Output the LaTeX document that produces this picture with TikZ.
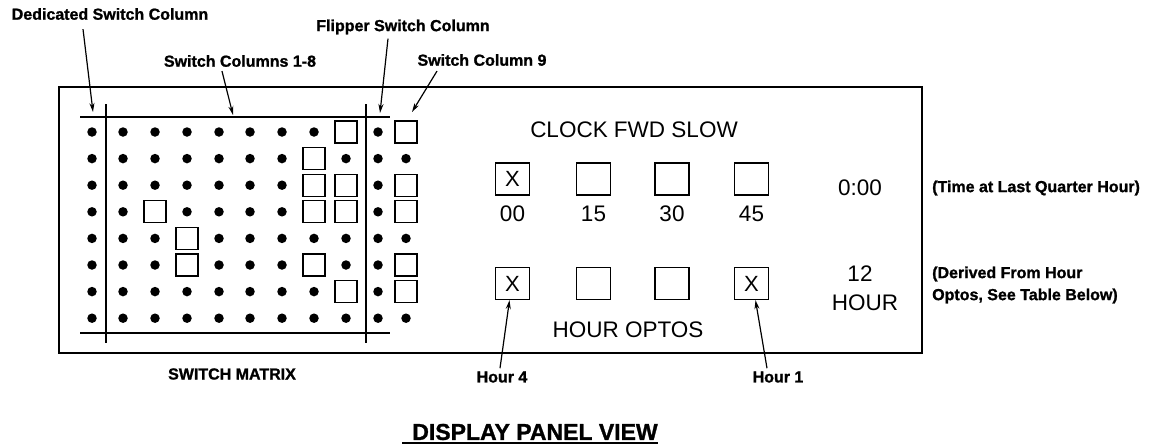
\documentclass[tikz,border=0pt]{standalone}
\usepackage{fontspec}
\setmainfont{Liberation Sans}
\newfontfamily\heavyfont[FakeBold=1.2]{Liberation Sans Bold}
\usetikzlibrary{arrows.meta,calc}
\begin{document}
\begin{tikzpicture}[x=1pt,y=-1pt,
 lbl/.style={font=\heavyfont\fontsize{16}{18}\selectfont, inner sep=1pt},
 big/.style={font=\fontsize{22.5}{26}\selectfont, inner sep=0pt},
 dot/.style={circle, fill=black, inner sep=0pt, minimum size=9.5pt},
 sq/.style={draw, line width=1.3pt, inner sep=0pt, minimum size=22pt},
 optobox/.style={draw, line width=1.3pt, inner sep=0pt, minimum width=34pt, minimum height=32pt, font=\fontsize{22}{24}\selectfont},
 arr/.style={line width=1.2pt, -{Stealth[length=9pt,width=5pt]}},
 rule/.style={line width=1.6pt}]
\useasboundingbox (0,0) rectangle (1156,445);
% panel
\draw[rule] (59,87) rectangle (922,353);
% matrix frame lines
\draw[rule] (80,117) -- (390,117);
\draw[rule] (80,333) -- (390,333);
\draw[rule] (106,104) -- (106,343);
\draw[rule] (366,104) -- (366,343);
% matrix dots / squares
\def\colx{{92,123,155,187,219,250,282,314,346,378,406}}
\foreach \pat [count=\r from 0] in {{0,0,0,0,0,0,0,0,1,0,1},{0,0,0,0,0,0,0,1,0,0,0},{0,0,0,0,0,0,0,1,1,0,1},{0,0,1,0,0,0,0,1,1,0,1},{0,0,0,1,0,0,0,0,0,0,0},{0,0,0,1,0,0,0,1,0,0,1},{0,0,0,0,0,0,0,0,1,0,1},{0,0,0,0,0,0,0,0,0,0,0}}{
  \foreach \v [count=\c from 0] in \pat {
    \pgfmathsetmacro\xx{\colx[\c]}
    \pgfmathsetmacro\yy{132+26.6*\r}
    \ifnum\v=1 \node[sq] (m-\r-\c) at (\xx,\yy) {};\else\node[dot] (m-\r-\c) at (\xx,\yy) {};\fi
  }
}
% clock section
\node[big] (clk) at (634,130) {CLOCK FWD SLOW};
\node[optobox] (t-0) at (512.5,179) {X};
\node[optobox] (t-1) at (593.5,179) {};
\node[optobox] (t-2) at (672,179) {};
\node[optobox] (t-3) at (751.5,179) {};
\node[big] (tl-0) at (512.5,214) {00};
\node[big] (tl-1) at (593.5,214) {15};
\node[big] (tl-2) at (672,214) {30};
\node[big] (tl-3) at (751.5,214) {45};
\node[optobox] (b-0) at (512.5,283.5) {X};
\node[optobox] (b-1) at (593.5,283.5) {};
\node[optobox] (b-2) at (672,283.5) {};
\node[optobox] (b-3) at (751.5,283.5) {X};
\node[big] (ho) at (628,330) {HOUR OPTOS};
\node[big] (t000) at (860,188) {0:00};
\node[big] (h12) at (860,274) {12};
\node[big] (hour) at (865,303) {HOUR};
% notes at right
\node[lbl, anchor=west] (note1) at (931,188) {(Time at Last Quarter Hour)};
\node[lbl, anchor=west, align=left, font=\heavyfont\fontsize{16}{22}\selectfont] (note2) at (931,285) {(Derived From Hour\\Optos, See Table Below)};
% top labels
\node[lbl] (ded) at (110,14) {Dedicated Switch Column};
\node[lbl] (c18) at (240,61) {Switch Columns 1-8};
\node[lbl] (flip) at (403,27) {Flipper Switch Column};
\node[lbl] (c9) at (482,60) {Switch Column 9};
\coordinate (ded-t) at (93,112);
\coordinate (c18-t) at (233,115);
\coordinate (flip-t) at (380,113);
\coordinate (c9-t) at (412,112);
\draw[arr] ([xshift=-27pt,yshift=-8pt]ded.south) -- (ded-t);
\draw[arr] ([xshift=-18pt,yshift=-3pt]c18.south) -- (c18-t);
\draw[arr] ([xshift=-15pt,yshift=-3pt]flip.south) -- (flip-t);
\draw[arr] ([xshift=-45pt,yshift=-4pt]c9.south) -- (c9-t);
% bottom labels
\node[lbl] (sm) at (232,374) {SWITCH MATRIX};
\node[lbl] (h4) at (502,377) {Hour 4};
\node[lbl] (h1) at (778,377) {Hour 1};
\draw[arr] ([xshift=-2pt,yshift=2pt]h4.north) -- ([xshift=-3pt]b-0.south);
\draw[arr] ([xshift=-11pt,yshift=2pt]h1.north) -- ([xshift=4pt]b-3.south);
% title
\node[font=\heavyfont\fontsize{23}{26}\selectfont, inner sep=0pt] (dpv) at (535,432) {DISPLAY PANEL VIEW};
\draw[line width=1.3pt] ([xshift=-10pt,yshift=-3pt]dpv.base west) -- ([yshift=-3pt]dpv.base east);
\end{tikzpicture}
\end{document}
